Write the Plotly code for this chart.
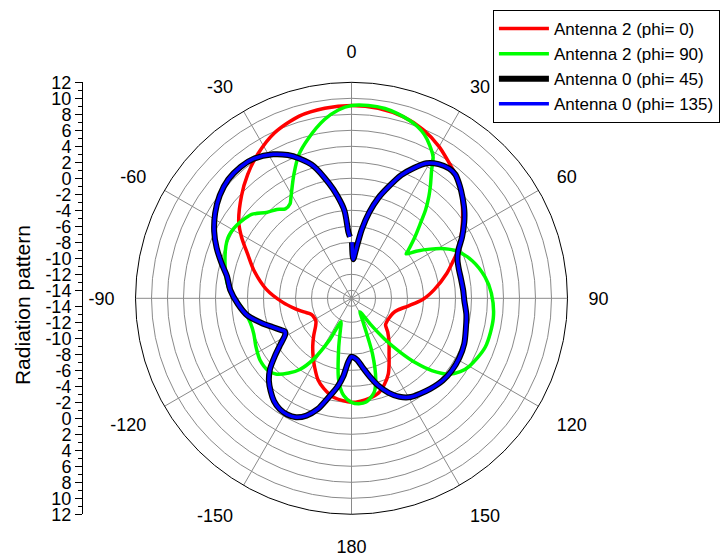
import plotly.graph_objects as go

# ---------------- data (angle in degrees, clockwise from top; gain in dB) ----------------
red_theta = [-180, -170, -163, -157.6, -152, -147, -141, -135, -128, -123, -118, -112, -106, -100,
             -93.4, -84, -74, -67, -61, -56, -47, -40, -33, -25, -16, -8, 0, 8, 16, 23, 30, 35, 40,
             45, 50, 57, 65, 70, 75.4, 84, 91, 97.5, 104, 110, 118.6, 124, 128, 133, 140, 146, 150,
             154, 159, 164, 170, 175, 180]
red_r = [-2.0, -2.4, -3.2, -4.0, -5.2, -6.2, -7.3, -8.3, -9.3, -9.7, -9.75, -9.6, -8.8, -7.75,
         -6.4, -4.3, -2.3, -0.9, 0.7, 2.0, 3.8, 5.2, 6.5, 7.8, 8.7, 9.0, 9.1, 9.0, 8.6, 7.9, 6.9, 6.0, 5.2,
         4.3, 3.1, 1.5, -0.2, -1.5, -2.7, -4.6, -6.1, -7.8, -9.0, -9.5, -9.7, -9.7, -9.6, -8.8, -7.7, -6.6, -5.6,
         -4.5, -3.5, -2.7, -2.3, -2.1, -2.0]

green_theta = [-180, -175.4, -171, -165.5, -160, -156, -152.3, -148, -144, -140, -135, -131, -124, -117,
               -110, -104, -99, -94, -84.5, -73.5, -64, -59, -55, -50, -44.7, -40, -36.5, -33, -31, -28,
               -24.9, -20.2, -15.1, -8.6, -4, 0, 5, 10, 14, 18, 21, 24, 27, 30, 32, 35, 37.2, 40, 42.3,
               46, 50, 51, 54, 58, 62, 65.7, 72.7, 80.9, 88, 98, 110, 120, 124, 128, 132, 135, 138,
               141, 144, 148, 151, 154, 159.3, 163.4, 166.5, 172, 176, 180]
green_r = [-2.0, -2.8, -4.7, -8.6, -11.0, -11.8, -9.2, -6.0, -4.0, -2.8, -1.6, -1.2, -1.2, -1.6,
           -2.0, -2.0, -1.7, -1.1, 0.5, 1.5, 2.2, 2.1, 1.8, 1.3, 0.1, -0.5, -1.1, -0.9, -0.3, 0.8,
           2.1, 4.1, 5.7, 7.6, 8.6, 9.1, 9.2, 9.1, 8.8, 8.4, 8.0, 7.4, 6.5, 5.4, 3.9, 2.2, 1.0, -0.6, -2.1,
           -4.0, -5.8, -6.2, -5.0, -3.4, -1.8, -0.6, 0.8, 1.9, 2.5, 2.9, 2.8, 2.0, 1.4, 0.4, -1.5, -3.5, -6.0,
           -8.5, -11.0, -13.0, -12.6, -11.7, -7.6, -4.4, -2.9, -1.9, -1.8, -2.0]

# Antenna 0 cuts: traced from just right of boresight, clockwise round to just left of it
ant0_theta = [0.5, 2.5, 5.7, 8.5, 11.7, 15, 18.4, 22, 25.7, 29, 33, 37, 40, 44, 47.5, 52, 56, 61, 66,
              70, 75, 80, 86, 91, 98, 105, 112, 119, 126, 132, 139, 144, 149, 154, 158.5, 163, 167,
              171, 175, 180, -177, -174, -171, -167, -163, -159, -155, -151, -147, -143, -139, -135,
              -131, -127, -123, -119, -116.5, -114, -110, -106, -99.3, -93, -86, -80, -75, -69.5, -64,
              -58, -52, -46, -40, -35, -28.6, -24, -20.6, -16, -11, -8, -4.6, -2.7, -1.5]
ant0_phi45_r = [-8.0, -10.1, -8.6, -6.3, -4.0, -2.0, -0.3, 1.6, 3.1, 4.3, 5.0, 5.3, 5.2, 4.5, 3.8,
                2.9, 2.0, 0.8, -0.4, -0.9, -1.1, -1.1, -1.0, -0.9, -0.5, -0.2, 0.2, 0.4, 0.45, 0.35,
                0.0, -0.3, -0.6, -1.3, -2.3, -3.6, -5.0, -6.3, -7.3, -7.7, -7.0, -5.2, -3.8, -2.3,
                -0.5, 0.7, 1.4, 1.6, 1.5, 1.1, 0.4, -0.4, -1.5, -3.0, -4.4, -5.5, -5.7, -5.3, -4.5,
                -3.5, -1.8, -0.8, 0.2, 0.8, 1.8, 3.0, 4.1, 5.1, 5.9, 6.4, 6.5, 6.3, 5.5, 4.6, 3.7,
                2.2, -0.4, -2.0, -4.0, -6.7, -7.3]
ant0_phi135_r = list(ant0_phi45_r)

radial_ticks = [-14, -12, -10, -8, -6, -4, -2, 0, 2, 4, 6, 8, 10, 12]
angle_ticks = [0, 30, 60, 90, 120, 150, 180, 210, 240, 270, 300, 330]
angle_labels = ['0', '30', '60', '90', '120', '150', '180', '-150', '-120', '-90', '-60', '-30']
r_min, r_max = -15, 12

# ---------------- geometry ----------------
W, H = 721, 559
cx, cy, rad = 351.5, 299, 224
dom_x = [(cx - rad) / W, (cx + rad) / W]
dom_y = [(H - cy - rad) / H, (H - cy + rad) / H]

FONT = "Liberation Sans, Arial, sans-serif"
FS = 18
DARK = "#8a8a8a"
LIGHT = "#d8d8d8"

fig = go.Figure()

series = [
    ("Antenna 2 (phi= 0)", red_theta, red_r, "#ff0000", 3.5),
    ("Antenna 2 (phi= 90)", green_theta, green_r, "#00ff00", 3.5),
    ("Antenna 0 (phi= 45)", ant0_theta, ant0_phi45_r, "#000000", 6),
    ("Antenna 0 (phi= 135)", ant0_theta, ant0_phi135_r, "#0000ff", 3.5),
]
for name, th, rr, col, w in series:
    fig.add_trace(go.Scatterpolar(
        theta=th, r=rr, mode="lines", name=name, subplot="polar2",
        line=dict(color=col, width=w, shape="spline", smoothing=0.8),
        hoverinfo="skip",
    ))

# empty cartesian trace so the left-hand dB scale gets its own axes
fig.add_trace(go.Scatter(x=[], y=[], showlegend=False, hoverinfo="skip"))

minor_vals = list(range(-13, 12, 2))
major_pos = [v - r_min for v in radial_ticks] + [-(v - r_min) for v in radial_ticks]
major_txt = [str(v) for v in radial_ticks] * 2
minor_pos = [v - r_min for v in minor_vals] + [-(v - r_min) for v in minor_vals]
span = r_max - r_min

fig.update_layout(
    width=W, height=H,
    margin=dict(l=0, r=0, t=0, b=0),
    paper_bgcolor="white", plot_bgcolor="rgba(0,0,0,0)",
    font=dict(family=FONT, size=FS, color="black"),
    showlegend=True,
    legend=dict(
        x=0.9985, xanchor="right", y=1.0, yanchor="top",
        bgcolor="white", bordercolor="black", borderwidth=1,
        font=dict(family=FONT, size=17), tracegroupgap=0, itemwidth=50,
    ),
    # light minor grid: every 1 dB and every 15 degrees
    polar=dict(
        domain=dict(x=dom_x, y=dom_y), bgcolor="white",
        radialaxis=dict(range=[r_min, r_max], tickvals=list(range(r_min, r_max + 1)),
                        showticklabels=False, showline=False, ticks="",
                        gridcolor=LIGHT, gridwidth=1),
        angularaxis=dict(rotation=90, direction="clockwise",
                         tickvals=list(range(0, 360, 15)), showticklabels=False,
                         ticks="inside", ticklen=6, tickcolor="#333333",
                         showline=True, linecolor="black", linewidth=1,
                         gridcolor=LIGHT, gridwidth=1),
    ),
    # dark major grid, labels and data
    polar2=dict(
        domain=dict(x=dom_x, y=dom_y), bgcolor="rgba(0,0,0,0)",
        radialaxis=dict(range=[r_min, r_max], tickvals=radial_ticks,
                        showticklabels=False, showline=False, ticks="",
                        gridcolor=DARK, gridwidth=1),
        angularaxis=dict(rotation=90, direction="clockwise",
                         tickvals=angle_ticks, ticktext=angle_labels,
                         ticks="outside", ticklen=17, tickcolor="rgba(0,0,0,0)",
                         tickfont=dict(size=FS),
                         showline=True, linecolor="black", linewidth=1,
                         gridcolor=DARK, gridwidth=1),
    ),
    xaxis=dict(domain=[82 / W, 83 / W], visible=False, range=[0, 1]),
    yaxis=dict(
        domain=dom_y, range=[-span, span], anchor="free", position=82 / W,
        tickmode="array", tickvals=major_pos, ticktext=major_txt,
        ticks="outside", ticklen=7, tickwidth=1, tickcolor="black",
        minor=dict(tickvals=minor_pos, ticks="outside", ticklen=4, tickcolor="black", showgrid=False),
        showline=True, linecolor="black", linewidth=1,
        showgrid=False, zeroline=False, tickfont=dict(size=FS),
    ),
    annotations=[dict(
        text="Radiation pattern", textangle=-90, showarrow=False,
        xref="paper", yref="paper", x=22 / W, y=(H - 306) / H,
        xanchor="center", yanchor="middle", font=dict(size=21),
    )],
)

fig.write_html("out.html")
